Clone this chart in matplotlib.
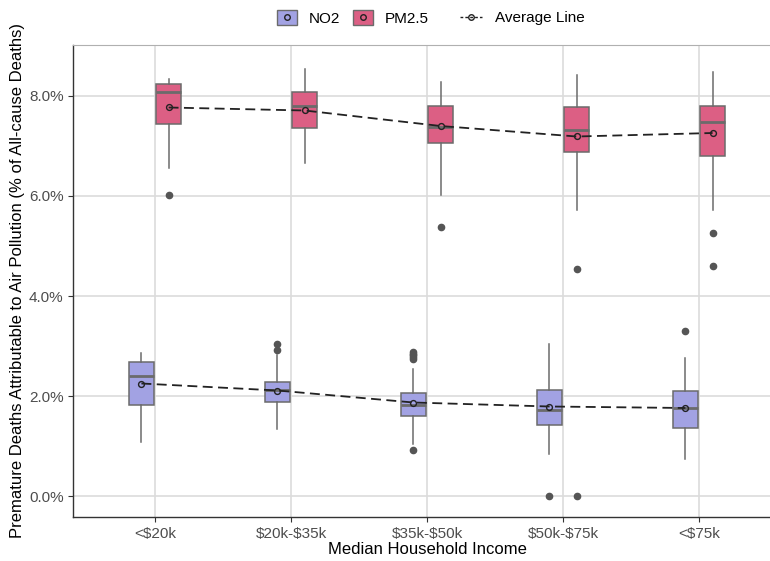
import matplotlib
matplotlib.use("Agg")
import matplotlib.pyplot as plt
from matplotlib.patches import Patch
from matplotlib.lines import Line2D
from matplotlib.ticker import FuncFormatter

plt.rcParams['font.family'] = ['Liberation Sans', 'DejaVu Sans']
plt.rcParams['text.parse_math'] = False

categories = ["<$20k", "$20k-$35k", "$35k-$50k", "$50k-$75k", "<$75k"]

# NO2 box statistics (% of all-cause deaths)
no2_whislo = [1.09, 1.35, 1.05, 0.85, 0.75]
no2_q1 = [1.83, 1.88, 1.61, 1.43, 1.37]
no2_med = [2.40, 2.12, 1.83, 1.73, 1.77]
no2_q3 = [2.68, 2.29, 2.07, 2.13, 2.10]
no2_whishi = [2.87, 2.82, 2.55, 3.05, 2.77]
no2_mean = [2.25, 2.11, 1.87, 1.79, 1.76]
no2_fliers = [[], [3.04, 2.93], [2.88, 2.85, 2.82, 2.78, 2.75, 0.92], [0.0], [3.31]]

# PM2.5 box statistics
pm_whislo = [6.55, 6.65, 6.02, 5.71, 5.71]
pm_q1 = [7.43, 7.36, 7.05, 6.87, 6.79]
pm_med = [8.08, 7.79, 7.37, 7.32, 7.47]
pm_q3 = [8.24, 8.08, 7.80, 7.77, 7.80]
pm_whishi = [8.34, 8.54, 8.27, 8.42, 8.47]
pm_mean = [7.77, 7.71, 7.40, 7.19, 7.26]
pm_fliers = [[6.02], [], [5.39], [4.55, 0.0], [5.26, 4.60]]

NO2_COLOR = "#a2a2e3"
PM_COLOR = "#dc5f84"
EDGE = "#6b6b6b"


def make_stats(lo, q1, med, q3, hi, fliers):
    stats = []
    for i in range(len(lo)):
        stats.append(dict(whislo=lo[i], q1=q1[i], med=med[i], q3=q3[i],
                          whishi=hi[i], fliers=fliers[i]))
    return stats


fig = plt.figure(figsize=(7.7, 5.61), dpi=100)
ax = fig.add_axes([73.4 / 770, 44 / 561, (780.6 - 73.4) / 770, (517 - 45) / 561])

base = list(range(1, len(categories) + 1))
offset = 0.1
width = 0.184

groups = [
    (make_stats(no2_whislo, no2_q1, no2_med, no2_q3, no2_whishi, no2_fliers), no2_mean, NO2_COLOR, -offset),
    (make_stats(pm_whislo, pm_q1, pm_med, pm_q3, pm_whishi, pm_fliers), pm_mean, PM_COLOR, offset),
]

for stats, means, color, off in groups:
    pos = [b + off for b in base]
    ax.bxp(stats, positions=pos, widths=width, patch_artist=True, showcaps=False,
           boxprops=dict(facecolor=color, edgecolor=EDGE, linewidth=1.1),
           whiskerprops=dict(color=EDGE, linewidth=1.1),
           medianprops=dict(color=EDGE, linewidth=2.0),
           flierprops=dict(marker='o', markerfacecolor="#555555", markeredgecolor="#555555",
                           markersize=4.5),
           manage_ticks=False, zorder=3)
    ax.plot(pos, means, linestyle=(0, (5.5, 3)), color="#222222", linewidth=1.3,
            marker='o', markersize=4.2, markerfacecolor='none', markeredgecolor="#222222",
            markeredgewidth=1.0, zorder=4)

ax.set_xlim(0.4, 5.6)
ax.set_ylim(-0.42, 9.02)
ax.set_xticks(base)
ax.set_xticklabels(categories)
ax.set_yticks([0, 2, 4, 6, 8])
ax.yaxis.set_major_formatter(FuncFormatter(lambda v, p: "%.1f%%" % v))

ax.grid(True, color="#dcdcdc", linewidth=1.2)
ax.set_axisbelow(True)
for s in ["top", "right"]:
    ax.spines[s].set_color("#b0b0b0")
for s in ["left", "bottom"]:
    ax.spines[s].set_color("#333333")
    ax.spines[s].set_linewidth(1.0)
ax.tick_params(colors="#333333", labelcolor="#4d4d4d", labelsize=11, length=3.5, width=0.8)

ax.set_xlabel("Median Household Income", fontsize=12, labelpad=1)
ax.set_ylabel("Premature Deaths Attributable to Air Pollution (% of All-cause Deaths)",
              fontsize=12, labelpad=3)

# legends
box_handles = []
for color in [NO2_COLOR, PM_COLOR]:
    p = Patch(facecolor=color, edgecolor=EDGE, linewidth=1.0)
    m = Line2D([], [], marker='o', linestyle='none', markersize=4, markerfacecolor='none',
               markeredgecolor="#222222")
    box_handles.append((p, m))
leg1 = fig.legend(box_handles, ["NO2", "PM2.5"], loc="center", bbox_to_anchor=(353 / 770, 1 - 18 / 561),
                  ncol=2, frameon=False, fontsize=11, handlelength=1.3, handleheight=1.1,
                  columnspacing=0.8, handletextpad=0.8)
avg = Line2D([], [], linestyle=(0, (2, 1.5)), color="#222222", linewidth=1.0, marker='o',
             markersize=4, markerfacecolor='none', markeredgecolor="#222222")
leg2 = fig.legend([avg], ["Average Line"], loc="center", bbox_to_anchor=(522 / 770, 1 - 18 / 561),
                  frameon=False, fontsize=11, handlelength=1.5, handletextpad=0.8)

fig.savefig("out.png", dpi=100)
